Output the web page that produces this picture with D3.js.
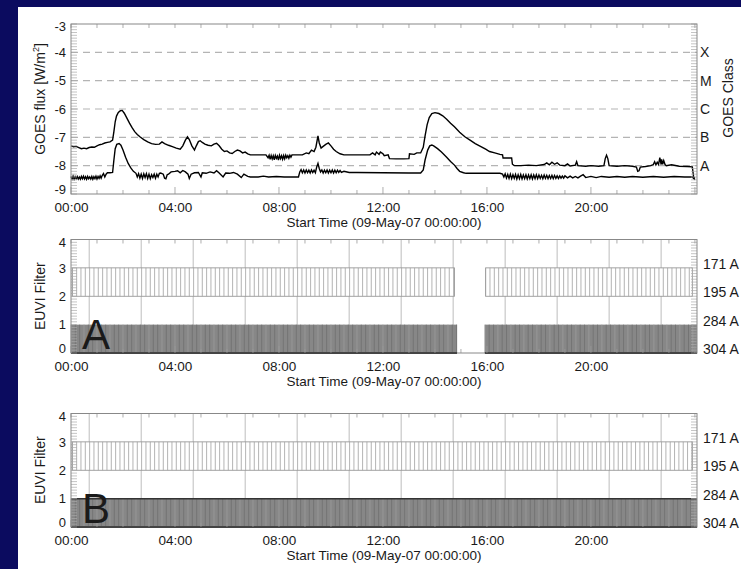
<!DOCTYPE html>
<html>
<head>
<meta charset="utf-8">
<script src="https://cdn.jsdelivr.net/npm/d3@7"></script>
<style>
  body { margin: 0; padding: 0; background: #0b0b5f; }
  text { font-family: "Liberation Sans", Arial, Helvetica, sans-serif; fill: #1a1a1a; }
</style>
</head>
<body>
<div id="chart"></div>
<script>
// ---- data (hours since 09-May-07 00:00, log10 flux) ----
var goesLongT = [0.00,0.10,0.20,0.30,0.40,0.50,0.60,0.70,0.80,0.90,1.00,1.10,1.20,1.30,1.40,1.50,1.60,1.65,1.70,1.75,1.82,1.90,1.97,2.05,2.15,2.25,2.35,2.45,2.55,2.65,2.80,2.95,3.10,3.25,3.40,3.50,3.60,3.75,3.90,4.05,4.20,4.30,4.40,4.48,4.55,4.65,4.75,4.82,4.90,4.97,5.05,5.15,5.27,5.40,5.50,5.60,5.70,5.80,5.90,6.00,6.10,6.20,6.30,6.40,6.50,6.60,6.70,6.80,6.90,7.10,7.30,7.50,7.58,7.62,7.66,7.70,7.74,7.78,7.82,7.86,7.90,7.94,7.98,8.02,8.06,8.10,8.14,8.18,8.22,8.26,8.30,8.34,8.38,8.42,8.46,8.50,8.70,8.90,9.05,9.15,9.25,9.35,9.42,9.50,9.55,9.62,9.70,9.80,9.90,10.00,10.10,10.20,10.35,10.50,11.00,11.50,11.60,11.70,11.75,11.85,11.90,12.00,12.05,12.20,12.25,12.50,12.80,13.00,13.02,13.20,13.30,13.45,13.55,13.62,13.70,13.78,13.88,14.00,14.15,14.30,14.45,14.60,14.75,14.95,15.15,15.35,15.55,15.75,15.95,16.10,16.30,16.50,16.60,16.62,16.95,16.98,17.05,17.30,17.60,17.90,18.20,18.30,18.40,18.50,18.60,18.70,18.80,19.00,19.10,19.20,19.40,19.45,19.50,19.80,20.00,20.30,20.50,20.55,20.60,20.65,20.70,21.00,21.30,21.60,21.75,21.80,21.85,21.90,22.10,22.30,22.40,22.45,22.50,22.55,22.60,22.65,22.70,22.72,22.76,22.80,22.85,22.90,23.10,23.40,23.70,23.90,23.95,24.00];
var goesLongV = [-7.30,-7.33,-7.32,-7.36,-7.40,-7.38,-7.40,-7.36,-7.34,-7.35,-7.30,-7.26,-7.24,-7.20,-7.18,-7.16,-7.10,-6.80,-6.45,-6.25,-6.12,-6.06,-6.05,-6.15,-6.32,-6.50,-6.66,-6.80,-6.90,-6.98,-7.08,-7.16,-7.22,-7.25,-7.24,-7.16,-7.22,-7.28,-7.33,-7.38,-7.42,-7.30,-7.10,-6.98,-7.08,-7.30,-7.45,-7.30,-7.15,-7.12,-7.18,-7.24,-7.28,-7.30,-7.24,-7.21,-7.30,-7.42,-7.50,-7.48,-7.55,-7.57,-7.50,-7.45,-7.48,-7.55,-7.52,-7.58,-7.62,-7.62,-7.62,-7.62,-7.72,-7.63,-7.78,-7.64,-7.76,-7.65,-7.79,-7.64,-7.74,-7.66,-7.80,-7.63,-7.75,-7.65,-7.77,-7.64,-7.76,-7.63,-7.72,-7.65,-7.74,-7.63,-7.70,-7.62,-7.62,-7.62,-7.55,-7.58,-7.45,-7.50,-7.35,-6.95,-7.20,-7.38,-7.32,-7.25,-7.20,-7.30,-7.42,-7.50,-7.58,-7.62,-7.62,-7.62,-7.55,-7.62,-7.52,-7.60,-7.52,-7.58,-7.65,-7.62,-7.75,-7.76,-7.76,-7.75,-7.58,-7.60,-7.55,-7.55,-7.35,-6.95,-6.55,-6.30,-6.16,-6.13,-6.16,-6.24,-6.36,-6.50,-6.63,-6.82,-6.98,-7.10,-7.22,-7.32,-7.42,-7.50,-7.55,-7.60,-7.62,-7.73,-7.73,-7.95,-8.00,-8.00,-7.98,-8.00,-7.96,-7.90,-7.97,-7.88,-7.95,-7.90,-7.98,-8.00,-7.94,-8.01,-7.98,-7.86,-8.00,-8.02,-8.00,-8.02,-8.00,-7.75,-7.63,-7.75,-8.00,-8.02,-8.00,-8.02,-8.05,-8.20,-8.18,-8.05,-8.03,-8.00,-7.96,-7.86,-7.97,-7.88,-7.96,-7.72,-7.96,-7.78,-7.95,-7.82,-7.96,-8.00,-7.97,-8.02,-8.03,-8.04,-8.40,-8.45];

var goesShortT = [0.00,0.04,0.08,0.12,0.16,0.20,0.24,0.28,0.32,0.36,0.40,0.44,0.48,0.52,0.56,0.60,0.64,0.68,0.72,0.76,0.80,0.84,0.88,0.92,0.96,1.00,1.04,1.08,1.12,1.16,1.20,1.25,1.30,1.35,1.40,1.50,1.60,1.65,1.70,1.76,1.85,1.92,2.00,2.10,2.20,2.30,2.40,2.50,2.55,2.60,2.65,2.70,2.75,2.80,2.85,2.90,2.95,3.00,3.05,3.10,3.15,3.20,3.25,3.30,3.35,3.40,3.45,3.55,3.60,3.65,3.70,3.75,3.85,4.00,4.10,4.20,4.30,4.40,4.50,4.55,4.62,4.75,4.90,5.00,5.05,5.20,5.35,5.50,5.60,5.70,5.85,5.95,6.10,6.25,6.40,6.55,6.65,6.80,6.90,7.20,7.40,7.60,7.90,8.20,8.50,8.75,8.80,8.85,8.90,8.95,9.00,9.05,9.10,9.15,9.20,9.25,9.30,9.35,9.40,9.45,9.50,9.55,9.60,9.65,9.70,9.75,9.80,9.85,9.90,9.95,10.00,10.05,10.10,10.15,10.20,10.25,10.30,10.35,10.40,10.50,10.70,11.00,12.00,13.00,13.45,13.55,13.62,13.72,13.80,13.88,13.95,14.10,14.25,14.45,14.60,14.75,14.85,14.95,15.10,15.20,16.00,16.50,16.60,16.65,16.70,16.75,16.80,16.85,16.90,16.95,17.00,17.05,17.10,17.15,17.20,17.25,17.30,17.35,17.40,17.45,17.50,17.55,17.60,17.65,17.70,17.75,17.80,17.85,17.90,17.95,18.00,18.05,18.10,18.15,18.20,18.25,18.30,18.35,18.40,18.45,18.50,18.55,18.60,18.65,18.70,18.75,18.80,18.85,18.90,18.95,19.00,19.10,19.20,19.30,19.40,19.50,19.60,19.70,19.80,20.00,20.20,20.40,20.70,21.00,21.30,21.60,22.00,22.40,22.80,23.20,23.60,23.90,24.00];
var goesShortV = [-8.38,-8.47,-8.37,-8.48,-8.39,-8.46,-8.38,-8.47,-8.40,-8.48,-8.38,-8.46,-8.37,-8.47,-8.39,-8.48,-8.38,-8.46,-8.40,-8.47,-8.38,-8.48,-8.39,-8.46,-8.37,-8.47,-8.38,-8.45,-8.36,-8.44,-8.35,-8.28,-8.40,-8.30,-8.25,-8.25,-8.24,-7.80,-7.40,-7.25,-7.22,-7.28,-7.45,-7.70,-7.92,-8.08,-8.20,-8.27,-8.40,-8.28,-8.44,-8.30,-8.45,-8.29,-8.42,-8.28,-8.45,-8.30,-8.46,-8.32,-8.42,-8.30,-8.44,-8.30,-8.40,-8.27,-8.26,-8.30,-8.44,-8.46,-8.32,-8.30,-8.22,-8.20,-8.18,-8.25,-8.17,-8.22,-8.30,-8.45,-8.30,-8.25,-8.24,-8.40,-8.25,-8.27,-8.22,-8.26,-8.18,-8.26,-8.40,-8.26,-8.27,-8.24,-8.30,-8.42,-8.30,-8.38,-8.40,-8.40,-8.37,-8.40,-8.38,-8.40,-8.40,-8.40,-8.22,-8.14,-8.25,-8.15,-8.26,-8.15,-8.25,-8.16,-8.26,-8.15,-8.24,-8.16,-8.25,-8.05,-7.92,-8.10,-8.22,-8.15,-8.26,-8.16,-8.25,-8.15,-8.26,-8.16,-8.25,-8.15,-8.26,-8.16,-8.25,-8.16,-8.24,-8.17,-8.24,-8.20,-8.24,-8.24,-8.25,-8.26,-8.26,-8.15,-7.80,-7.45,-7.30,-7.27,-7.30,-7.40,-7.52,-7.70,-7.85,-7.98,-8.10,-8.20,-8.25,-8.27,-8.27,-8.27,-8.30,-8.40,-8.29,-8.44,-8.31,-8.45,-8.30,-8.46,-8.32,-8.45,-8.31,-8.47,-8.32,-8.46,-8.31,-8.47,-8.33,-8.46,-8.32,-8.47,-8.33,-8.46,-8.32,-8.47,-8.33,-8.46,-8.32,-8.46,-8.33,-8.45,-8.34,-8.46,-8.33,-8.45,-8.34,-8.46,-8.35,-8.45,-8.34,-8.46,-8.35,-8.45,-8.36,-8.45,-8.36,-8.44,-8.37,-8.44,-8.36,-8.43,-8.37,-8.43,-8.38,-8.43,-8.37,-8.32,-8.42,-8.38,-8.42,-8.38,-8.41,-8.38,-8.41,-8.38,-8.41,-8.38,-8.41,-8.38,-8.40,-8.40,-8.50];

var goesTicks = [-3,-4,-5,-6,-7,-8,-9];
var goesClassLevels = [-4,-5,-6,-7,-8];
var goesClasses = ["X","M","C","B","A"];

var hourLabels = [0,4,8,12,16,20];
var euviTicks = [0,1,2,3,4];
var euviFilters = ["171 A","195 A","284 A","304 A"];
var euviLevels = [3,2,1,0];
var euviGridHours = [0.7,2.7,4.7,6.7,8.7,10.7,12.7,14.7,16.7,18.7,20.7,22.7];

// EUVI coverage: [start hour, end hour] per filter, images every 10 minutes
var cadenceMin = 10;
var panelA195 = [[0.05,14.75],[15.95,23.9]];
var panelA304 = [[0.0,14.85],[15.92,24.08]];
var panelB195 = [[0.05,23.9]];
var panelB304 = [[0.0,24.08]];

// ---- layout ----
var W = 741, H = 569;
var svg = d3.select("#chart").append("svg")
    .attr("width", W).attr("height", H);

svg.append("rect").attr("width", W).attr("height", H).attr("fill", "#0b0b5f");
svg.append("rect").attr("x", 18).attr("y", 7).attr("width", W - 18).attr("height", H - 7).attr("fill", "#ffffff");

var x = d3.scaleLinear().domain([0, 24.08]).range([71, 697]);
var hhmm = function(d) { return d3.format("02d")(d) + ":00"; };
var plain = function(d) { return d < 0 ? "-" + (-d) : "" + d; };

// frame, hour ticks, minor y ticks, x labels
function drawFrame(y, yLo, yHi, yTickVals) {
  var top = y(yHi), bot = y(yLo);
  var g = svg.append("g");

  // minor ticks on left and right
  var minors = d3.range(yLo, yHi + 0.001, 0.1);
  g.selectAll(".ml").data(minors).enter().append("line")
    .attr("x1", x.range()[0]).attr("x2", x.range()[0] + 6)
    .attr("y1", function(d) { return y(d); }).attr("y2", function(d) { return y(d); })
    .attr("stroke", "#aaa").attr("stroke-width", 0.7);
  g.selectAll(".mr").data(minors).enter().append("line")
    .attr("x1", x.range()[1]).attr("x2", x.range()[1] - 6)
    .attr("y1", function(d) { return y(d); }).attr("y2", function(d) { return y(d); })
    .attr("stroke", "#aaa").attr("stroke-width", 0.7);

  // hourly ticks top and bottom
  var hrs = d3.range(0, 25);
  g.selectAll(".ht").data(hrs).enter().append("line")
    .attr("x1", function(d) { return x(d); }).attr("x2", function(d) { return x(d); })
    .attr("y1", top).attr("y2", top + 4)
    .attr("stroke", "#999").attr("stroke-width", 0.8);
  g.selectAll(".hb").data(hrs).enter().append("line")
    .attr("x1", function(d) { return x(d); }).attr("x2", function(d) { return x(d); })
    .attr("y1", bot).attr("y2", function(d) { return bot - (d % 4 == 0 ? 7 : 4); })
    .attr("stroke", "#999").attr("stroke-width", 0.8);

  g.append("rect")
    .attr("x", x.range()[0]).attr("y", top)
    .attr("width", x.range()[1] - x.range()[0]).attr("height", bot - top)
    .attr("fill", "none").attr("stroke", "#888").attr("stroke-width", 1);

  // left axis labels (end labels nudged inside like the original)
  var yAxis = svg.append("g")
    .attr("transform", "translate(" + x.range()[0] + ",0)")
    .call(d3.axisLeft(y).tickValues(yTickVals).tickFormat(plain).tickSize(0).tickPadding(5));
  yAxis.select(".domain").remove();
  yAxis.selectAll("text").attr("font-size", 13).attr("fill", "#1a1a1a")
    .style("font-family", "Liberation Sans, Arial, sans-serif")
    .attr("dy", function(d) { return d == yLo ? "-0.05em" : (d == yHi ? "0.5em" : "0.32em"); });

  // bottom axis labels
  var xAxis = svg.append("g")
    .attr("transform", "translate(0," + bot + ")")
    .call(d3.axisBottom(x).tickValues(hourLabels).tickFormat(hhmm).tickSize(0).tickPadding(8));
  xAxis.select(".domain").remove();
  xAxis.selectAll("text").attr("font-size", 13.5).attr("fill", "#1a1a1a")
    .style("font-family", "Liberation Sans, Arial, sans-serif");

  svg.append("text")
    .attr("x", (x.range()[0] + x.range()[1]) / 2).attr("y", bot + 33)
    .attr("text-anchor", "middle").attr("font-size", 13.5)
    .text("Start Time (09-May-07 00:00:00)");
}

// ---- panel 1: GOES ----
var yG = d3.scaleLinear().domain([-9, -3]).range([194, 24]);

svg.selectAll(".dash").data(goesClassLevels).enter().append("line")
  .attr("x1", x.range()[0]).attr("x2", x.range()[1])
  .attr("y1", function(d) { return yG(d); }).attr("y2", function(d) { return yG(d); })
  .attr("stroke", "#b4b4b4").attr("stroke-width", 1.2).attr("stroke-dasharray", "7,5");

var goesLine = d3.line()
  .x(function(d) { return x(d[0]); })
  .y(function(d) { return yG(d[1]); });

var longData = d3.zip(goesLongT, goesLongV);
var shortData = d3.zip(goesShortT, goesShortV);
svg.append("path").datum(longData).attr("d", goesLine)
  .attr("fill", "none").attr("stroke", "#000").attr("stroke-width", 1.4);
svg.append("path").datum(shortData).attr("d", goesLine)
  .attr("fill", "none").attr("stroke", "#000").attr("stroke-width", 1.4);

drawFrame(yG, -9, -3, goesTicks);

svg.selectAll(".cls").data(goesClasses).enter().append("text")
  .attr("x", 700)
  .attr("y", function(d, i) { return yG(goesClassLevels[i]); })
  .attr("dy", "0.35em").attr("font-size", 14)
  .text(function(d) { return d; });

svg.append("text")
  .attr("transform", "translate(733,98) rotate(-90)")
  .attr("text-anchor", "middle").attr("font-size", 14)
  .text("GOES Class");

var fluxLabel = svg.append("text")
  .attr("transform", "translate(45,99) rotate(-90)")
  .attr("text-anchor", "middle").attr("font-size", 14);
fluxLabel.append("tspan").text("GOES flux [W/m");
fluxLabel.append("tspan").attr("font-size", 9).attr("dy", -6).text("2");
fluxLabel.append("tspan").attr("dy", 6).text("]");

// ---- panels 2 and 3: EUVI ----
function drawEuvi(y, cover195, cover304, letter, topLine) {
  var g = svg.append("g");

  g.selectAll(".grid").data(euviGridHours).enter().append("line")
    .attr("x1", function(d) { return x(d); }).attr("x2", function(d) { return x(d); })
    .attr("y1", y(4)).attr("y2", y(0))
    .attr("stroke", "#bdbdbd").attr("stroke-width", 1);

  // 195 A band: hatched by single exposures
  cover195.forEach(function(c) {
    g.append("rect")
      .attr("x", x(c[0])).attr("y", y(3))
      .attr("width", x(c[1]) - x(c[0])).attr("height", y(2) - y(3))
      .attr("fill", "#fff").attr("stroke", "#8c8c8c").attr("stroke-width", 0.8);
    var times = d3.range(c[0], c[1], cadenceMin / 60);
    g.selectAll(null).data(times).enter().append("line")
      .attr("x1", function(d) { return x(d); }).attr("x2", function(d) { return x(d); })
      .attr("y1", y(3)).attr("y2", y(2))
      .attr("stroke", "#a0a0a0").attr("stroke-width", 0.8);
  });

  // 304 A band: dense exposures
  cover304.forEach(function(c) {
    g.append("rect")
      .attr("x", x(c[0])).attr("y", y(1))
      .attr("width", x(c[1]) - x(c[0])).attr("height", y(0) - y(1))
      .attr("fill", "#878787");
    var times = d3.range(c[0], c[1], cadenceMin / 60);
    g.selectAll(null).data(times).enter().append("line")
      .attr("x1", function(d) { return x(d); }).attr("x2", function(d) { return x(d); })
      .attr("y1", y(1)).attr("y2", y(0))
      .attr("stroke", function(d, i) { return i % 3 == 0 ? "#9c9c9c" : "#707070"; })
      .attr("stroke-width", 0.8);
    g.append("line")
      .attr("x1", x(c[0])).attr("x2", x(c[1]))
      .attr("y1", y(0)).attr("y2", y(0))
      .attr("stroke", "#000").attr("stroke-width", 2);
    if (topLine) {
      g.append("line")
        .attr("x1", x(c[0])).attr("x2", x(c[1]))
        .attr("y1", y(1)).attr("y2", y(1))
        .attr("stroke", "#333").attr("stroke-width", 1.5);
    }
  });

  drawFrame(y, 0, 4, euviTicks);

  svg.selectAll(null).data(euviFilters).enter().append("text")
    .attr("x", 703)
    .attr("y", function(d, i) { return y(euviLevels[i]) + 1; })
    .attr("font-size", 14)
    .text(function(d) { return d; });

  svg.append("text")
    .attr("transform", "translate(45," + ((y(0) + y(4)) / 2) + ") rotate(-90)")
    .attr("text-anchor", "middle").attr("font-size", 14)
    .text("EUVI Filter");

  svg.append("text")
    .attr("x", 82).attr("y", y(0) - 4)
    .attr("font-size", 42).attr("fill", "#000")
    .text(letter);
}

var yA = d3.scaleLinear().domain([0, 4]).range([353, 239.5]);
var yB = d3.scaleLinear().domain([0, 4]).range([527, 413.5]);

drawEuvi(yA, panelA195, panelA304, "A", false);
drawEuvi(yB, panelB195, panelB304, "B", true);
</script>
</body>
</html>
